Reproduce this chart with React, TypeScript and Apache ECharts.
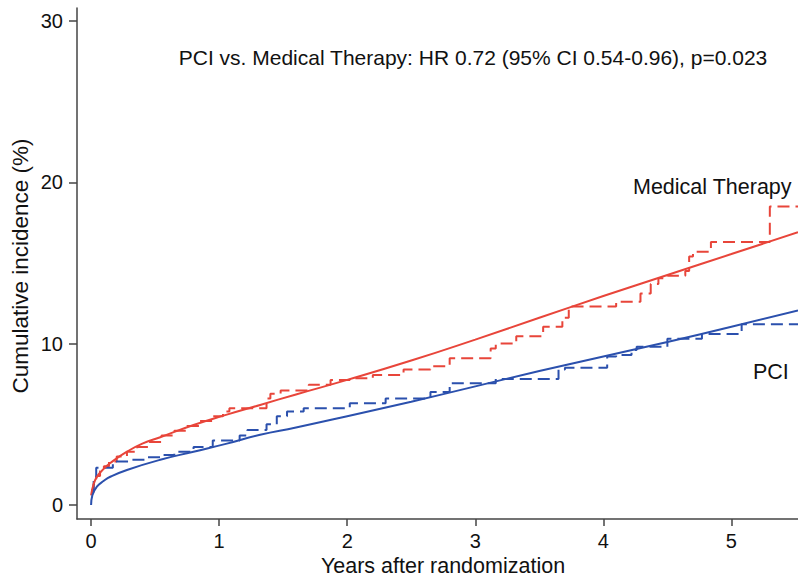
import React, { useEffect, useRef } from "react";
import * as echarts from "echarts";

const xTicks = [0, 1, 2, 3, 4, 5];
const yTicks = [0, 10, 20, 30];

const medicalKM: [number, number][] = [
  [0, 0.8], [0.02, 1.3], [0.04, 1.8], [0.07, 2.1], [0.1, 2.4], [0.14, 2.7], [0.2, 3.0],
  [0.28, 3.3], [0.36, 3.6], [0.45, 3.9], [0.55, 4.3], [0.65, 4.6], [0.75, 4.9], [0.85, 5.2],
  [0.95, 5.5], [1.03, 5.8], [1.08, 6.0], [1.37, 6.6], [1.4, 6.9], [1.48, 7.1], [1.7, 7.45],
  [1.87, 7.75], [2.02, 7.85], [2.2, 8.05], [2.44, 8.4], [2.65, 8.6], [2.8, 9.1], [3.12, 9.7],
  [3.16, 10.0], [3.32, 10.45], [3.53, 11.05], [3.68, 11.6], [3.73, 12.3], [4.1, 12.6],
  [4.29, 13.1], [4.37, 13.7], [4.43, 14.05], [4.5, 14.2], [4.64, 14.5], [4.67, 15.4],
  [4.7, 15.7], [4.84, 16.3], [5.3, 18.5], [5.52, 18.5],
];

const pciKM: [number, number][] = [
  [0, 0.9], [0.02, 1.6], [0.04, 2.3], [0.17, 2.7], [0.3, 2.8], [0.44, 2.95], [0.54, 3.1],
  [0.65, 3.3], [0.8, 3.6], [0.95, 4.0], [1.16, 4.3], [1.22, 4.65], [1.37, 5.0], [1.45, 5.5],
  [1.53, 5.8], [1.66, 6.0], [2.02, 6.3], [2.3, 6.6], [2.65, 7.0], [2.8, 7.55], [3.16, 7.8],
  [3.65, 8.4], [3.7, 8.5], [4.03, 9.2], [4.1, 9.3], [4.22, 9.6], [4.26, 9.8], [4.5, 10.3],
  [4.77, 10.6], [5.08, 11.2], [5.52, 11.2],
];

const medicalFit: [number, number][] = [
  [0, 0.6], [0.02, 1.3], [0.05, 1.8], [0.1, 2.25], [0.15, 2.6], [0.28, 3.3], [0.4, 3.8],
  [0.54, 4.2], [0.8, 4.96], [1.06, 5.6], [1.32, 6.2], [1.6, 6.85], [2, 7.75], [2.5, 8.95],
  [3, 10.25], [3.5, 11.6], [4, 12.95], [4.5, 14.25], [5, 15.55], [5.52, 16.9],
];

const pciFit: [number, number][] = [
  [0, 0], [0.01, 0.6], [0.045, 1.13], [0.1, 1.5], [0.15, 1.75], [0.28, 2.17], [0.54, 2.8],
  [0.8, 3.3], [1.06, 3.8], [1.32, 4.35], [1.6, 4.8], [2, 5.5], [2.5, 6.4], [3, 7.35],
  [3.5, 8.3], [4, 9.2], [4.5, 10.1], [5, 11.05], [5.52, 12.05],
];

const RED = "#e8453a";
const BLUE = "#2b50ad";
const FONT = "Liberation Sans";

export default function App() {
  const ref = useRef<HTMLDivElement>(null);
  useEffect(() => {
    if (!ref.current) return;
    const chart = echarts.init(ref.current, undefined, { renderer: "svg" });
    chart.setOption({
      animation: false,
      backgroundColor: "#ffffff",
      grid: { left: 77, right: 0, top: 8, bottom: 59, containLabel: false },
      xAxis: {
        type: "value",
        min: -0.11,
        max: 5.52,
        splitLine: { show: false },
        axisLine: { show: true, onZero: false, lineStyle: { color: "#444", width: 1.5 } },
        axisTick: { show: true, customValues: xTicks, length: 7, lineStyle: { color: "#444", width: 1.5 } },
        axisLabel: { customValues: xTicks, margin: 12, fontSize: 20, color: "#111", fontFamily: FONT },
      },
      yAxis: {
        type: "value",
        min: -0.87,
        max: 30.8,
        splitLine: { show: false },
        axisLine: { show: true, onZero: false, lineStyle: { color: "#444", width: 1.5 } },
        axisTick: { show: true, customValues: yTicks, length: 8, lineStyle: { color: "#444", width: 1.5 } },
        axisLabel: { customValues: yTicks, margin: 14, fontSize: 20, color: "#111", fontFamily: FONT },
      },
      series: [
        {
          type: "line", data: medicalFit, smooth: true, showSymbol: false,
          lineStyle: { color: RED, width: 2 }, z: 3,
        },
        {
          type: "line", data: pciFit, smooth: true, showSymbol: false,
          lineStyle: { color: BLUE, width: 2 }, z: 3,
        },
        {
          type: "line", data: medicalKM, step: "end", showSymbol: false,
          lineStyle: { color: RED, width: 2, type: [12, 6] }, z: 2,
        },
        {
          type: "line", data: pciKM, step: "end", showSymbol: false,
          lineStyle: { color: BLUE, width: 2, type: [12, 6] }, z: 2,
        },
      ],
      graphic: [
        {
          type: "text", x: 473, y: 57,
          style: {
            text: "PCI vs. Medical Therapy: HR 0.72 (95% CI 0.54-0.96), p=0.023",
            fontSize: 21, fontFamily: FONT, fill: "#111", align: "center", verticalAlign: "middle",
          },
        },
        {
          type: "text", x: 633, y: 187,
          style: { text: "Medical Therapy", fontSize: 21.5, fontFamily: FONT, fill: "#111", align: "left", verticalAlign: "middle" },
        },
        {
          type: "text", x: 753, y: 372,
          style: { text: "PCI", fontSize: 21.5, fontFamily: FONT, fill: "#111", align: "left", verticalAlign: "middle" },
        },
        {
          type: "text", x: 443, y: 566,
          style: { text: "Years after randomization", fontSize: 21.5, fontFamily: FONT, fill: "#111", align: "center", verticalAlign: "middle" },
        },
        {
          type: "text", x: 20, y: 266, rotation: Math.PI / 2,
          style: { text: "Cumulative incidence (%)", fontSize: 22.5, fontFamily: FONT, fill: "#111", align: "center", verticalAlign: "middle" },
        },
      ],
    });
    return () => chart.dispose();
  }, []);
  return <div ref={ref} style={{ width: 798, height: 578, position: "absolute", left: 0, top: 0 }} />;
}
